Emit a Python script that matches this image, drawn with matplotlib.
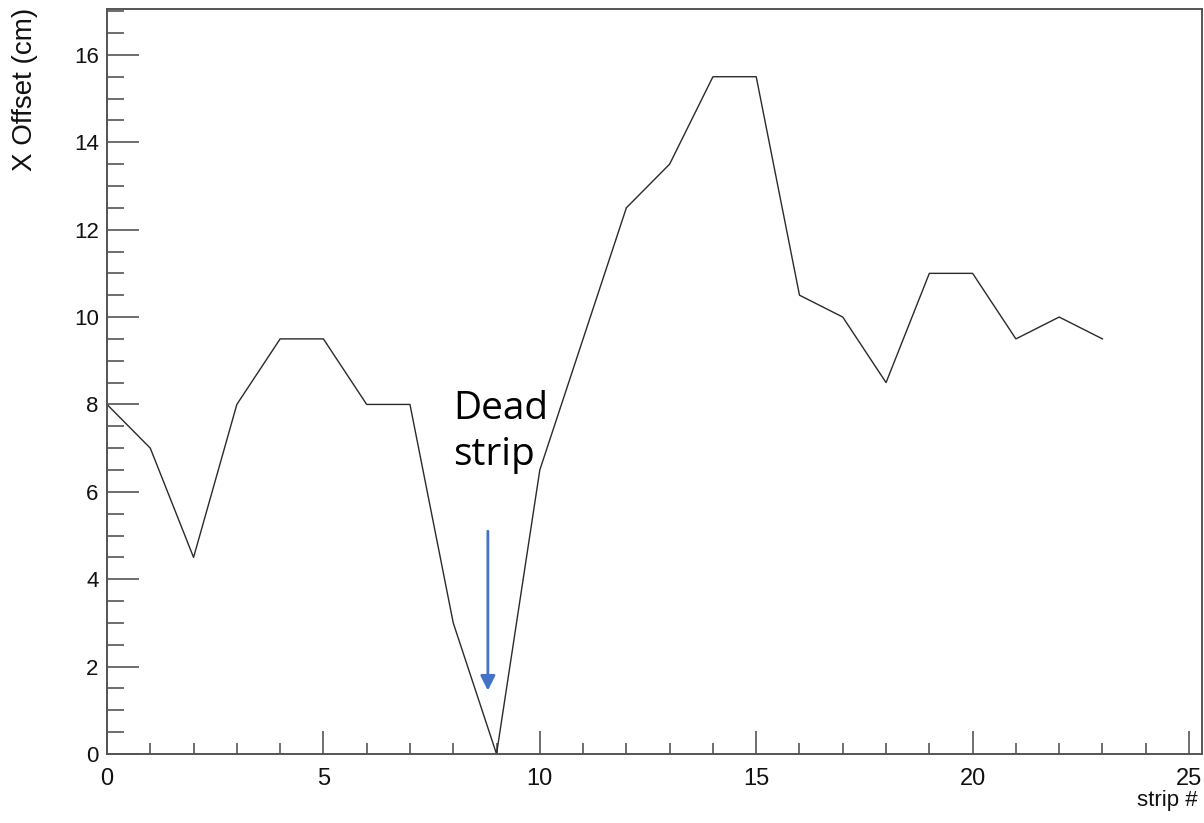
import numpy as np
import matplotlib.pyplot as plt
from matplotlib.ticker import MultipleLocator

# ---------------------------------------------------------------
# data
strip = [0, 1, 2, 3, 4, 5, 6, 7, 8, 9, 10, 11,
         12, 13, 14, 15, 16, 17, 18, 19, 20, 21, 22, 23]
x_offset = [8.0, 7.0, 4.5, 8.0, 9.5, 9.5, 8.0, 8.0, 3.0, 0.0, 6.5, 9.5,
            12.5, 13.5, 15.5, 15.5, 10.5, 10.0, 8.5, 11.0, 11.0, 9.5, 10.0, 9.5]

y_ticks = [0, 2, 4, 6, 8, 10, 12, 14, 16]
x_ticks = [0, 5, 10, 15, 20, 25]

dead_label = "Dead\nstrip"
dead_text_pos = (8.0, 6.4)
arrow_start = (8.8, 5.1)
arrow_end = (8.8, 1.45)

# ---------------------------------------------------------------
W, H = 1204, 823
fig = plt.figure(figsize=(W / 100, H / 100), dpi=100)
left, right, bottom, top = 107, 1202, 754, 9
ax = fig.add_axes([left / W, 1 - bottom / H, (right - left) / W, (bottom - top) / H])

ax.plot(strip, x_offset, '-', color='#2a2a2a', lw=1.0)

ax.set_xlim(0, 25.3)
ax.set_ylim(0, 17.05)

tick_font = 'Liberation Sans'
spine_col = '#555555'
for s in ax.spines.values():
    s.set_color(spine_col)
    s.set_linewidth(1.4)

ax.set_xticks(x_ticks)
ax.set_yticks(y_ticks)
ax.xaxis.set_minor_locator(MultipleLocator(1))
ax.yaxis.set_minor_locator(MultipleLocator(0.5))

ax.tick_params(axis='y', which='major', direction='in', length=23, width=1.2,
               color=spine_col, pad=6, labelsize=16)
ax.tick_params(axis='y', which='minor', direction='in', length=12, width=1.2,
               color=spine_col)
ax.tick_params(axis='x', which='major', direction='in', length=16.5, width=1.2,
               color=spine_col, pad=10, labelsize=17)
ax.tick_params(axis='x', which='minor', direction='in', length=8, width=1.2,
               color=spine_col)
ax.tick_params(top=False, right=False, which='both')
for lab in ax.get_xticklabels() + ax.get_yticklabels():
    lab.set_family(tick_font)
    lab.set_color('#111111')

# axis titles, ROOT style (aligned to the axis ends)
fig.text(25 / W, 1 - 8 / H, "X Offset (cm)", rotation=90, ha='center', va='top',
         fontsize=20, family=tick_font, color='#111111')
fig.text(1198 / W, 1 - 790 / H, "strip #", ha='right', va='top',
         fontsize=16, family=tick_font, color='#111111')

# annotation
ax.text(dead_text_pos[0], dead_text_pos[1], dead_label, fontsize=28,
        family=['Open Sans', 'Noto Sans'], ha='left', va='bottom',
        linespacing=1.3, color='black')
ax.annotate('', xy=arrow_end, xytext=arrow_start,
            arrowprops=dict(arrowstyle='-|>', color='#4472C4', lw=2,
                            mutation_scale=22, shrinkA=0, shrinkB=0))

fig.savefig("out.png", dpi=100)
